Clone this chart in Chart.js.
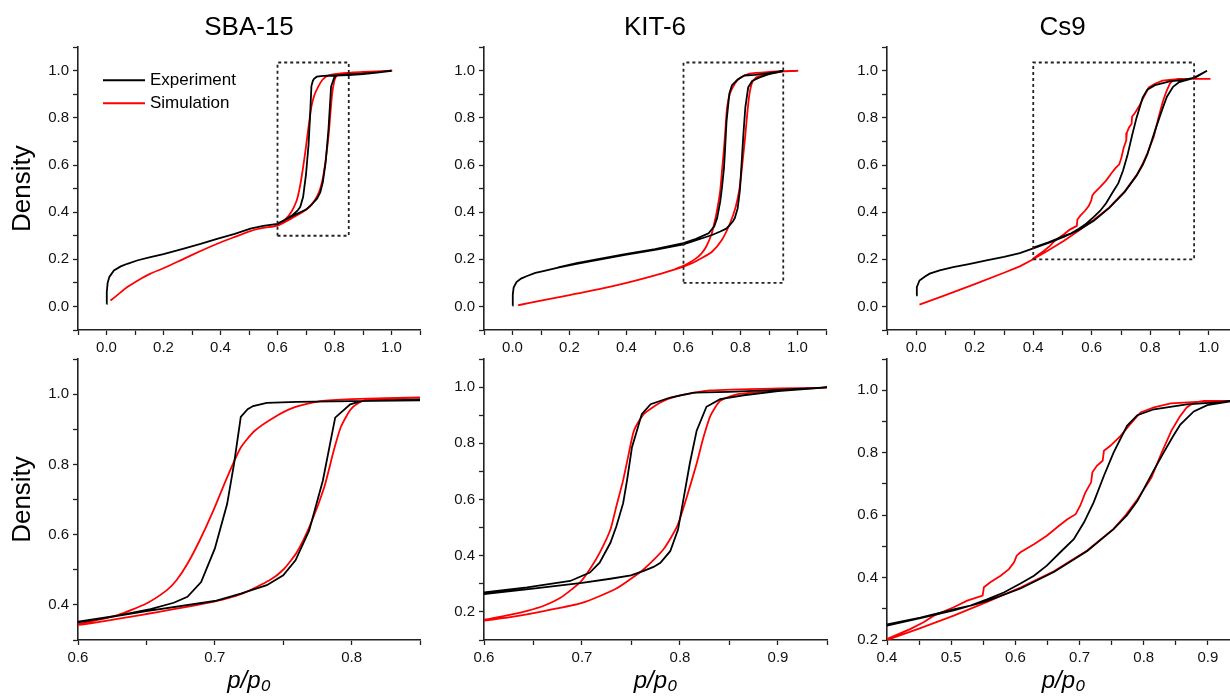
<!DOCTYPE html>
<html>
<head>
<meta charset="utf-8">
<script src="https://cdn.jsdelivr.net/npm/chart.js@4.4.1/dist/chart.umd.min.js"></script>
<style>
  html, body { margin: 0; padding: 0; background: #fff; overflow: hidden; }
  #everything { position: relative; width: 1230px; height: 696px; overflow: hidden; }
  #everything canvas { position: absolute; }
</style>
</head>
<body>
<div id="everything"></div>
<script>
// Density vs p/p0; each curve runs along adsorption, then back along desorption
const materials = ['SBA-15', 'KIT-6', 'Cs9'];
const seriesNames = ['Experiment', 'Simulation'];

const sbaExpP = [0.000, 0.001, 0.004, 0.010, 0.026, 0.050, 0.073, 0.110, 0.154, 0.200, 0.271, 0.330, 0.388, 0.450, 0.505, 0.550, 0.600, 0.650, 0.700, 0.719, 0.738, 0.750, 0.759, 0.769, 0.779, 0.788, 0.799, 0.807, 0.850, 0.900, 0.950, 1.000,
                 0.950, 0.900, 0.850, 0.800, 0.760, 0.738, 0.728, 0.724, 0.719, 0.714, 0.709, 0.700, 0.690, 0.680, 0.670, 0.653, 0.630, 0.600];
const sbaExpD = [0.011, 0.060, 0.100, 0.125, 0.153, 0.170, 0.181, 0.196, 0.209, 0.222, 0.245, 0.265, 0.287, 0.308, 0.330, 0.342, 0.350, 0.382, 0.411, 0.432, 0.456, 0.484, 0.527, 0.612, 0.754, 0.933, 0.971, 0.980, 0.985, 0.988, 0.993, 1.000,
                 0.992, 0.986, 0.982, 0.980, 0.978, 0.975, 0.966, 0.957, 0.935, 0.800, 0.687, 0.560, 0.465, 0.423, 0.406, 0.388, 0.370, 0.352];
const sbaSimP = [0.014, 0.040, 0.073, 0.110, 0.154, 0.200, 0.271, 0.330, 0.388, 0.450, 0.505, 0.550, 0.600, 0.650, 0.700, 0.720, 0.740, 0.750, 0.760, 0.770, 0.780, 0.787, 0.792, 0.799, 0.805, 0.811, 0.850, 0.900, 0.950, 1.000,
                 0.900, 0.850, 0.800, 0.777, 0.758, 0.743, 0.729, 0.719, 0.709, 0.699, 0.689, 0.680, 0.672, 0.665, 0.650, 0.629, 0.600, 0.580];
const sbaSimD = [0.025, 0.050, 0.082, 0.110, 0.139, 0.162, 0.202, 0.235, 0.266, 0.295, 0.320, 0.333, 0.343, 0.374, 0.410, 0.432, 0.470, 0.500, 0.550, 0.630, 0.735, 0.840, 0.905, 0.955, 0.975, 0.982, 0.990, 0.993, 0.997, 1.000,
                 0.995, 0.991, 0.986, 0.980, 0.962, 0.933, 0.895, 0.848, 0.763, 0.669, 0.584, 0.517, 0.470, 0.442, 0.404, 0.371, 0.345, 0.338];

const kitExpP = [0.000, 0.001, 0.004, 0.014, 0.030, 0.049, 0.080, 0.108, 0.160, 0.225, 0.300, 0.400, 0.500, 0.600, 0.650, 0.700, 0.729, 0.750, 0.763, 0.773, 0.780, 0.790, 0.798, 0.804, 0.810, 0.817, 0.827, 0.841, 0.865, 0.900, 0.950,
                 0.900, 0.850, 0.814, 0.790, 0.770, 0.761, 0.756, 0.751, 0.746, 0.742, 0.735, 0.729, 0.718, 0.708, 0.688, 0.644, 0.600, 0.500, 0.400, 0.300, 0.225, 0.160];
const kitExpD = [0.004, 0.050, 0.080, 0.103, 0.118, 0.128, 0.142, 0.150, 0.165, 0.181, 0.198, 0.220, 0.240, 0.263, 0.283, 0.303, 0.318, 0.330, 0.346, 0.360, 0.375, 0.416, 0.493, 0.610, 0.728, 0.845, 0.930, 0.957, 0.971, 0.986, 0.999,
                 0.990, 0.983, 0.980, 0.963, 0.939, 0.904, 0.845, 0.786, 0.669, 0.587, 0.504, 0.446, 0.375, 0.340, 0.310, 0.287, 0.269, 0.243, 0.223, 0.201, 0.184, 0.166];
const kitSimP = [0.020, 0.100, 0.200, 0.300, 0.400, 0.500, 0.550, 0.600, 0.630, 0.661, 0.700, 0.735, 0.763, 0.783, 0.797, 0.807, 0.817, 0.824, 0.831, 0.841, 0.858, 0.900, 0.950, 1.000,
                 0.900, 0.831, 0.797, 0.780, 0.763, 0.753, 0.747, 0.742, 0.735, 0.729, 0.718, 0.708, 0.698, 0.678, 0.661, 0.644, 0.620, 0.600, 0.570];
const kitSimD = [0.005, 0.025, 0.048, 0.072, 0.100, 0.132, 0.150, 0.169, 0.183, 0.203, 0.232, 0.283, 0.352, 0.422, 0.504, 0.610, 0.728, 0.822, 0.898, 0.951, 0.974, 0.988, 0.998, 1.000,
                 0.995, 0.988, 0.968, 0.945, 0.904, 0.845, 0.751, 0.669, 0.575, 0.493, 0.410, 0.352, 0.305, 0.250, 0.222, 0.204, 0.185, 0.172, 0.158];

const csExpP = [0.000, 0.002, 0.011, 0.030, 0.046, 0.080, 0.126, 0.180, 0.240, 0.300, 0.354, 0.400, 0.452, 0.504, 0.556, 0.608, 0.660, 0.712, 0.753, 0.774, 0.790, 0.816, 0.831, 0.845, 0.857, 0.878, 0.899, 0.935, 0.960, 0.994,
                0.955, 0.920, 0.867, 0.816, 0.790, 0.774, 0.753, 0.738, 0.722, 0.707, 0.691, 0.670, 0.649, 0.629, 0.608, 0.582, 0.556, 0.530, 0.504, 0.452, 0.400];
const csExpD = [0.047, 0.082, 0.110, 0.127, 0.139, 0.153, 0.167, 0.180, 0.195, 0.210, 0.226, 0.246, 0.270, 0.295, 0.325, 0.365, 0.418, 0.485, 0.555, 0.600, 0.645, 0.745, 0.800, 0.850, 0.890, 0.932, 0.952, 0.964, 0.978, 1.000,
                0.972, 0.962, 0.955, 0.939, 0.920, 0.886, 0.800, 0.726, 0.641, 0.577, 0.523, 0.481, 0.438, 0.406, 0.381, 0.352, 0.330, 0.310, 0.298, 0.272, 0.250];
const csSimP = [0.011, 0.100, 0.200, 0.300, 0.354, 0.400, 0.452, 0.504, 0.556, 0.608, 0.660, 0.712, 0.753, 0.772, 0.790, 0.812, 0.828, 0.843, 0.856, 0.867, 0.878, 0.894, 0.935, 1.006,
                0.935, 0.883, 0.842, 0.816, 0.795, 0.779, 0.764, 0.748, 0.738, 0.736, 0.727, 0.720, 0.718, 0.709, 0.701, 0.694, 0.681, 0.668, 0.649, 0.629, 0.608, 0.602, 0.598, 0.590, 0.577, 0.561, 0.551, 0.549, 0.525, 0.504, 0.473, 0.457, 0.436, 0.400];
const csSimD = [0.008, 0.048, 0.095, 0.143, 0.170, 0.200, 0.238, 0.278, 0.322, 0.368, 0.420, 0.487, 0.556, 0.600, 0.650, 0.720, 0.800, 0.870, 0.915, 0.945, 0.960, 0.966, 0.966, 0.966,
                0.966, 0.963, 0.958, 0.945, 0.929, 0.891, 0.854, 0.822, 0.806, 0.774, 0.758, 0.737, 0.705, 0.672, 0.630, 0.603, 0.587, 0.566, 0.534, 0.507, 0.481, 0.470, 0.449, 0.427, 0.406, 0.385, 0.369, 0.342, 0.326, 0.305, 0.278, 0.257, 0.235, 0.203];

// zoomed regions, outlined in the overview panels
const sbaBoxP = [0.60, 0.85, 0.85, 0.60, 0.60];
const sbaBoxD = [0.30, 0.30, 1.035, 1.035, 0.30];
const kitBoxP = [0.60, 0.95, 0.95, 0.60, 0.60];
const kitBoxD = [0.10, 0.10, 1.035, 1.035, 0.10];
const csBoxP = [0.40, 0.95, 0.95, 0.40, 0.40];
const csBoxD = [0.20, 0.20, 1.035, 1.035, 0.20];

const FONT = "'Liberation Sans', Arial, sans-serif";
const AXIS_W = 78;

function pairs(px, dy) {
    return px.map((p, i) => ({x: p, y: dy[i]}));
}

function curve(label, px, dy, color, tension) {
    return {label: label, data: pairs(px, dy), showLine: true, borderColor: color, borderWidth: 1.8,
            pointRadius: 0, tension: tension, fill: false};
}

function box(px, dy) {
    return {label: '', data: pairs(px, dy), showLine: true, borderColor: '#222', borderWidth: 1.8,
            borderDash: [3, 3], pointRadius: 0, tension: 0, fill: false};
}

function isMajor(v, major) {
    const q = v / major;
    return Math.abs(q - Math.round(q)) < 1e-6;
}

function scale(min, max, step, major, fit, title) {
    return {
        type: 'linear', min: min, max: max,
        afterFit: fit,
        border: {display: true, color: '#222', width: 1.6},
        grid: {display: true, drawOnChartArea: false, drawTicks: true, tickLength: 5, tickColor: '#222', tickWidth: 1.3},
        ticks: {stepSize: step, autoSkip: false, maxRotation: 0, padding: 4, color: '#111',
                font: {family: FONT, size: 15},
                callback: v => isMajor(v, major) ? v.toFixed(1) : ''},
        title: title || {display: false}
    };
}

// legend drawn inside the plot area, next to the curves
const innerLegend = {
    id: 'innerLegend',
    afterDatasetsDraw(chart, args, opts) {
        const {ctx, chartArea} = chart;
        const items = chart.data.datasets.filter(d => d.label);
        ctx.save();
        ctx.font = `17px ${FONT}`;
        ctx.textBaseline = 'middle';
        items.forEach((d, i) => {
            const x = chartArea.left + opts.left;
            const y = chartArea.top + opts.top + i * opts.gap;
            ctx.strokeStyle = d.borderColor;
            ctx.lineWidth = 2;
            ctx.beginPath();
            ctx.moveTo(x, y);
            ctx.lineTo(x + opts.lineLen, y);
            ctx.stroke();
            ctx.fillStyle = '#000';
            ctx.fillText(d.label, x + opts.lineLen + 5, y);
        });
        ctx.restore();
    }
};

const panels = [
    {row: 0, plot: [78, 47, 420, 330], x: [-0.1, 1.1, 0.1, 0.2], y: [-0.1, 1.1, 0.1, 0.2], title: materials[0],
     exp: [sbaExpP, sbaExpD], sim: [sbaSimP, sbaSimD], box: [sbaBoxP, sbaBoxD], yTitle: true, legend: true},
    {row: 0, plot: [484, 47, 826, 330], x: [-0.1, 1.1, 0.1, 0.2], y: [-0.1, 1.1, 0.1, 0.2], title: materials[1],
     exp: [kitExpP, kitExpD], sim: [kitSimP, kitSimD], box: [kitBoxP, kitBoxD]},
    {row: 0, plot: [887, 47, 1238, 330], x: [-0.1, 1.1, 0.1, 0.2], y: [-0.1, 1.1, 0.1, 0.2], title: materials[2],
     exp: [csExpP, csExpD], sim: [csSimP, csSimD], box: [csBoxP, csBoxD]},
    {row: 1, plot: [78, 359, 420, 640], x: [0.6, 0.85, 0.05, 0.1], y: [0.3, 1.1, 0.1, 0.2],
     exp: [sbaExpP, sbaExpD], sim: [sbaSimP, sbaSimD], yTitle: true},
    {row: 1, plot: [484, 359, 827, 640], x: [0.6, 0.95, 0.05, 0.1], y: [0.1, 1.1, 0.1, 0.2],
     exp: [kitExpP, kitExpD], sim: [kitSimP, kitSimD]},
    {row: 1, plot: [887, 359, 1240, 640], x: [0.4, 0.95, 0.05, 0.1], y: [0.2, 1.1, 0.1, 0.2],
     exp: [csExpP, csExpD], sim: [csSimP, csSimD]}
];

const everything = document.getElementById('everything');

panels.forEach(p => {
    const [L, T, R, B] = p.plot;
    const padTop = p.row === 0 ? 0 : 16;
    const top = p.row === 0 ? 0 : T - padTop;
    const height = p.row === 0 ? 360 : 696 - top;
    const width = R - L + AXIS_W + 12;
    const xHeight = top + height - B;

    const canvas = document.createElement('canvas');
    canvas.width = width;
    canvas.height = height;
    canvas.style.left = (L - AXIS_W) + 'px';
    canvas.style.top = top + 'px';
    everything.appendChild(canvas);

    const datasets = [];
    if (p.box) datasets.push(box(p.box[0], p.box[1]));
    datasets.push(curve(seriesNames[0], p.exp[0], p.exp[1], '#000000', 0));
    datasets.push(curve(seriesNames[1], p.sim[0], p.sim[1], '#ff0000', p.sim[0] === csSimP ? 0 : 0.2));

    const yTitle = p.yTitle ? {display: true, text: 'Density', color: '#000',
        font: {family: FONT, size: 26, lineHeight: 1.2}, padding: {top: 7, bottom: 0}} : null;
    const xTitle = p.row === 1 ? {display: true, text: 'p/p\u2080', color: '#000',
        font: {family: FONT, size: 24, style: 'italic', lineHeight: 1.2}, padding: {top: 0, bottom: 0}} : null;

    new Chart(canvas, {
        type: 'scatter',
        data: {datasets: datasets},
        options: {
            responsive: false,
            animation: false,
            layout: {padding: {left: 0, right: 12, top: padTop, bottom: 0}},
            scales: {
                x: scale(p.x[0], p.x[1], p.x[2], p.x[3], s => { s.height = xHeight; }, xTitle),
                y: scale(p.y[0], p.y[1], p.y[2], p.y[3], s => { s.width = AXIS_W; }, yTitle)
            },
            plugins: {
                legend: {display: false},
                tooltip: {enabled: false},
                title: {display: !!p.title, text: p.title || '', fullSize: false, color: '#000',
                        font: {family: FONT, size: 26, weight: 'normal', lineHeight: 1.2},
                        padding: {top: 12, bottom: 4}},
                innerLegend: {left: 25, top: 33, gap: 23, lineLen: 42}
            }
        },
        plugins: p.legend ? [innerLegend] : []
    });
});
</script>
</body>
</html>
